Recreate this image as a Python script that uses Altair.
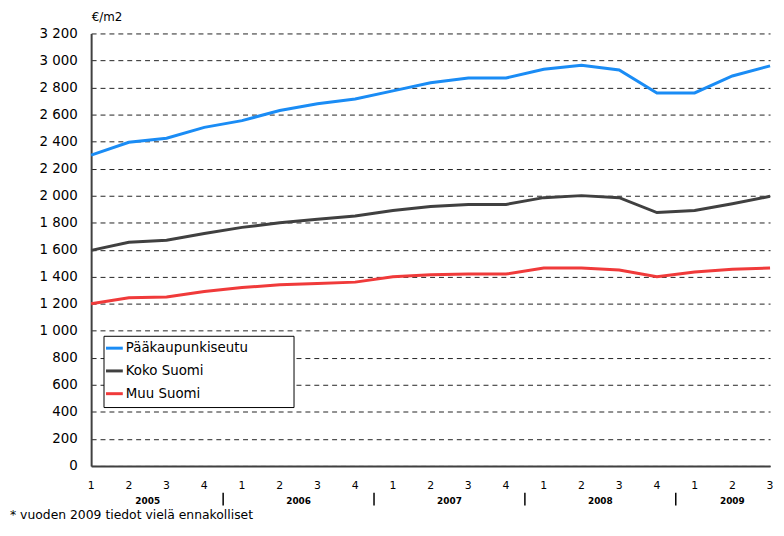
import altair as alt
import pandas as pd

quarters = ["2005Q1","2005Q2","2005Q3","2005Q4","2006Q1","2006Q2","2006Q3","2006Q4",
            "2007Q1","2007Q2","2007Q3","2007Q4","2008Q1","2008Q2","2008Q3","2008Q4",
            "2009Q1","2009Q2","2009Q3"]
paakaupunkiseutu = [2300, 2395, 2425, 2505, 2555, 2630, 2680, 2715, 2775, 2835, 2870, 2870,
                    2935, 2965, 2930, 2760, 2760, 2885, 2960]
koko_suomi = [1595, 1655, 1670, 1720, 1765, 1800, 1825, 1850, 1890, 1920, 1935, 1935,
              1985, 2000, 1985, 1875, 1890, 1940, 1995]
muu_suomi = [1200, 1245, 1250, 1290, 1320, 1340, 1350, 1360, 1400, 1415, 1420, 1420,
             1465, 1465, 1450, 1400, 1435, 1455, 1465]
series_names = ["Pääkaupunkiseutu", "Koko Suomi", "Muu Suomi"]
series_colors = ["#1a8cf5", "#404040", "#f03a3a"]
years = ["2005", "2006", "2007", "2008", "2009"]
footnote = "* vuoden 2009 tiedot vielä ennakolliset"
y_title = "€/m2"

rows = []
for name, vals in zip(series_names, [paakaupunkiseutu, koko_suomi, muu_suomi]):
    for i, (q, v) in enumerate(zip(quarters, vals)):
        rows.append({"series": name, "i": i, "q": q, "value": v})
df = pd.DataFrame(rows)

q_df = pd.DataFrame({"i": list(range(len(quarters))), "lab": [q[-1] for q in quarters]})

# year label positions = mean of quarter indices of that year
year_rows = []
for y in years:
    idx = [i for i, q in enumerate(quarters) if q.startswith(y)]
    year_rows.append({"year": y, "pos": sum(idx) / len(idx)})
year_df = pd.DataFrame(year_rows)
sep_df = pd.DataFrame({"pos": [i - 0.5 for i, q in enumerate(quarters) if q.endswith("Q1") and i > 0]})

xscale = alt.Scale(domain=[0, len(quarters) - 1], nice=False, zero=False)
yscale = alt.Scale(domain=[0, 3200], nice=False)

lines = alt.Chart(df).mark_line(strokeWidth=3, interpolate="linear").encode(
    x=alt.X("i:Q", scale=xscale,
            axis=alt.Axis(title=None, grid=False, ticks=False, domain=True, labels=False,
                          domainColor="#404040", domainWidth=2)),
    y=alt.Y("value:Q", scale=yscale,
            axis=alt.Axis(values=list(range(0, 3201, 200)),
                          labelExpr="replace(format(datum.value, ','), ',', ' ')",
                          title=y_title, titleAngle=0, titleAlign="left", titleX=0, titleY=-10,
                          titleFont="DejaVu Sans", titleFontSize=12, titleFontWeight="normal",
                          titleColor="#000",
                          grid=True, gridDash=[5, 4], gridColor="#222", gridWidth=1,
                          ticks=False, domain=True, domainColor="#404040", domainWidth=2,
                          labelFont="DejaVu Sans", labelFontSize=13.5, labelColor="#000",
                          labelPadding=14, labelOverlap=False)),
    color=alt.Color("series:N", scale=alt.Scale(domain=series_names, range=series_colors), legend=None),
    detail="series:N",
)

q_text = alt.Chart(q_df).mark_text(font="DejaVu Sans", fontSize=11, baseline="middle",
                                   color="#000").encode(
    x=alt.X("i:Q", scale=xscale), y=alt.value(457), text="lab:N")

year_text = alt.Chart(year_df).mark_text(font="DejaVu Sans", fontSize=9, fontWeight="bold",
                                         baseline="middle", color="#000").encode(
    x=alt.X("pos:Q", scale=xscale), y=alt.value(472), text="year:N")

sep_text = alt.Chart(sep_df).mark_rule(color="#000", strokeWidth=1.5).encode(
    x=alt.X("pos:Q", scale=xscale), y=alt.value(464), y2=alt.value(477))

foot = alt.Chart(pd.DataFrame({"t": [footnote]})).mark_text(
    font="DejaVu Sans", fontSize=12.5, align="left", baseline="middle", color="#000").encode(
    x=alt.value(-82), y=alt.value(487), text="t:N")

# legend box
leg_box = alt.Chart(pd.DataFrame({"a": [0]})).mark_rect(
    fill="white", stroke="#000", strokeWidth=1).encode(
    x=alt.value(13), x2=alt.value(205), y=alt.value(306), y2=alt.value(378))

leg_layers = [leg_box]
for k, (name, col) in enumerate(zip(series_names, series_colors)):
    yy = 318 + 23 * k
    ldf = pd.DataFrame({"name": [name]})
    leg_layers.append(alt.Chart(ldf).mark_rule(color=col, strokeWidth=3).encode(
        x=alt.value(15), x2=alt.value(32), y=alt.value(yy)))
    leg_layers.append(alt.Chart(ldf).mark_text(
        font="DejaVu Sans", fontSize=13.5, align="left", baseline="middle", color="#000").encode(
        x=alt.value(35), y=alt.value(yy), text="name:N"))

chart = alt.layer(lines, q_text, year_text, sep_text, foot, *leg_layers).properties(
    width=686, height=437,
    autosize=alt.AutoSizeParams(type="none"),
    padding={"left": 84, "top": 23, "right": 6, "bottom": 60},
    background="white",
).configure_view(stroke=None)

chart.save("out.html", embed_options={"renderer": "svg", "actions": False})
